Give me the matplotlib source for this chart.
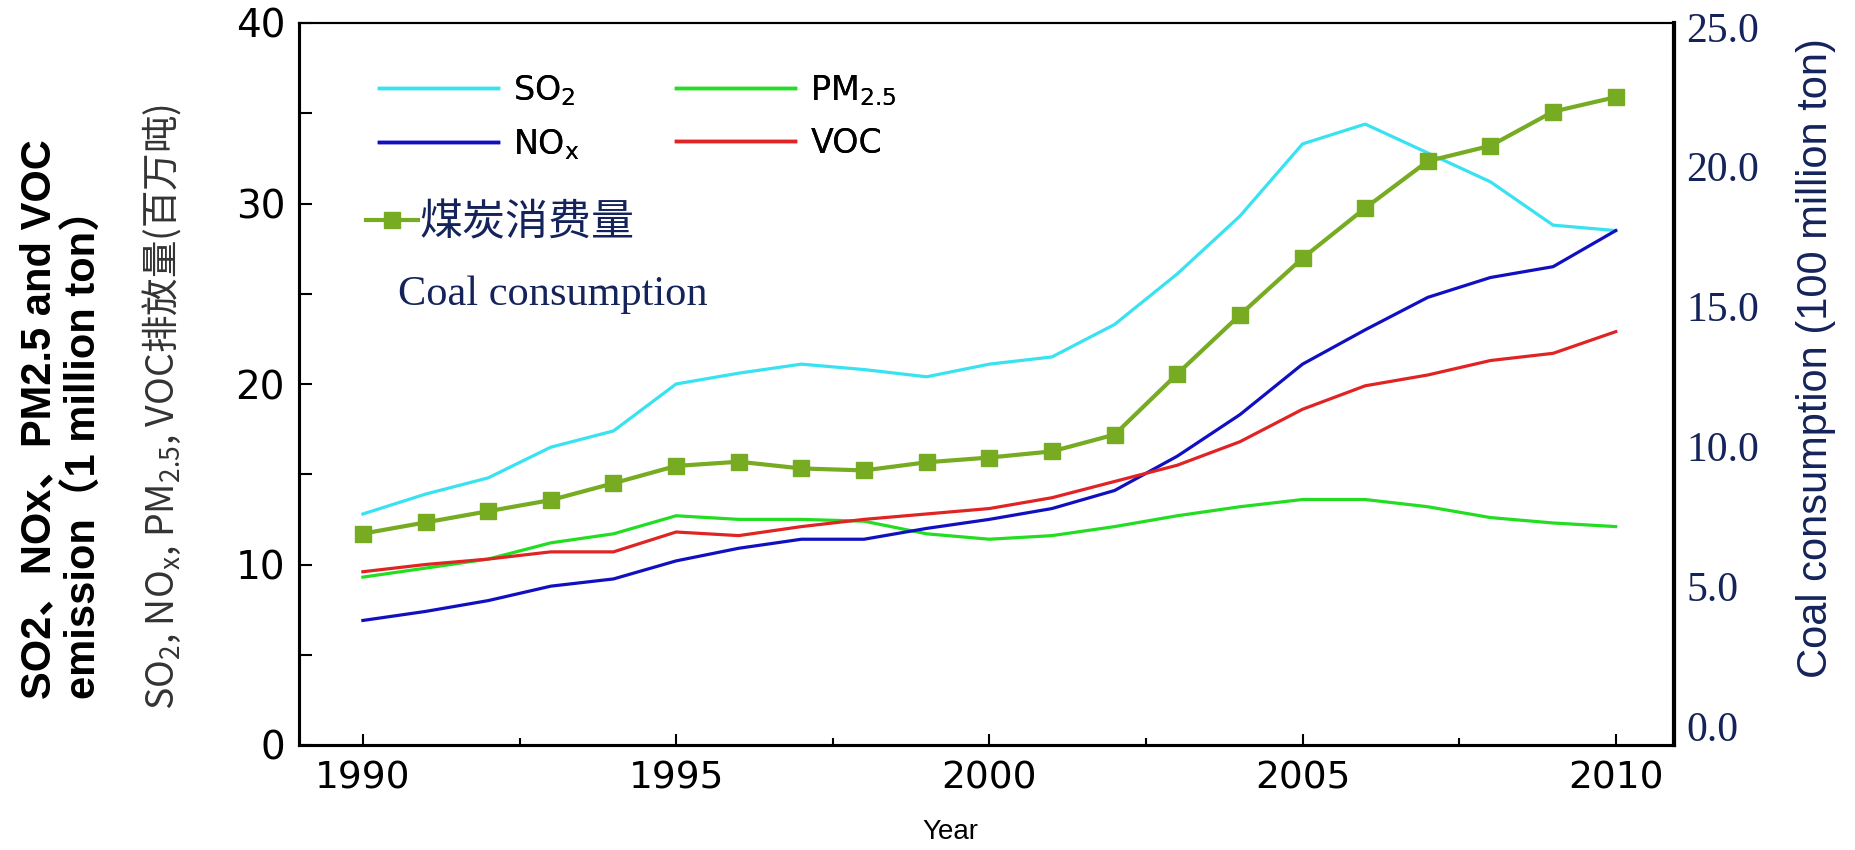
import matplotlib
matplotlib.use("Agg")
import matplotlib.pyplot as plt
from matplotlib.lines import Line2D
from matplotlib.ticker import MultipleLocator

plt.rcParams["mathtext.default"] = "regular"

# values
years = list(range(1990, 2011))
so2 = [12.8, 13.9, 14.8, 16.5, 17.4, 20.0, 20.6, 21.1, 20.8, 20.4, 21.1,
       21.5, 23.3, 26.1, 29.3, 33.3, 34.4, 32.8, 31.2, 28.8, 28.5]
nox = [6.9, 7.4, 8.0, 8.8, 9.2, 10.2, 10.9, 11.4, 11.4, 12.0, 12.5,
       13.1, 14.1, 16.0, 18.3, 21.1, 23.0, 24.8, 25.9, 26.5, 28.5]
pm25 = [9.3, 9.8, 10.3, 11.2, 11.7, 12.7, 12.5, 12.5, 12.4, 11.7, 11.4,
        11.6, 12.1, 12.7, 13.2, 13.6, 13.6, 13.2, 12.6, 12.3, 12.1]
voc = [9.6, 10.0, 10.3, 10.7, 10.7, 11.8, 11.6, 12.1, 12.5, 12.8, 13.1,
       13.7, 14.6, 15.5, 16.8, 18.6, 19.9, 20.5, 21.3, 21.7, 22.9]
coal = [6.88, 7.28, 7.68, 8.08, 8.68, 9.30, 9.45, 9.21, 9.14, 9.43, 9.60,
        9.82, 10.42, 12.59, 14.70, 16.73, 18.52, 20.20, 20.75, 21.97, 22.49]

navy = "#14235a"
c_so2 = "#38e2f0"
c_nox = "#1010c0"
c_pm = "#22dd22"
c_voc = "#e02424"
c_coal = "#76ab22"

W, H = 1855, 850
fig = plt.figure(figsize=(18.55, 8.5), dpi=100)
ax = fig.add_axes([299 / W, (H - 745) / H, (1674 - 299) / W, (745 - 23) / H])
ax2 = ax.twinx()

ax.plot(years, so2, color=c_so2, lw=2.3)
ax.plot(years, pm25, color=c_pm, lw=2.3)
ax.plot(years, nox, color=c_nox, lw=2.3)
ax.plot(years, voc, color=c_voc, lw=2.3)
ax2.plot(years, coal, color=c_coal, lw=3, marker="s", ms=12)

ax.set_xlim(1988.98, 2010.93)
ax.set_ylim(0, 40)
ax2.set_ylim(-0.68, 25.14)

ax.xaxis.set_major_locator(MultipleLocator(5))
ax.xaxis.set_minor_locator(MultipleLocator(2.5))
ax.yaxis.set_major_locator(MultipleLocator(10))
ax.yaxis.set_minor_locator(MultipleLocator(5))
ax.tick_params(which="both", direction="in", top=False, right=False)
ax.tick_params(axis="x", which="major", length=8, width=1.5, pad=11, labelsize=27)
ax.tick_params(axis="x", which="minor", length=5, width=1.5)
ax.tick_params(axis="y", which="both", length=9, width=1.5, pad=10, labelsize=28)
for lab in ax.get_xticklabels() + ax.get_yticklabels():
    lab.set_family("DejaVu Sans")

ax2.yaxis.set_major_locator(MultipleLocator(5))
ax2.yaxis.set_major_formatter(matplotlib.ticker.FormatStrFormatter("%.1f"))
ax2.tick_params(axis="y", length=0, pad=9, labelsize=30, labelcolor=navy)
for lab in ax2.get_yticklabels():
    lab.set_family("Liberation Serif")

for a in (ax, ax2):
    for s in a.spines.values():
        s.set_linewidth(2.2)
    a.spines["top"].set_linewidth(1.5)
ax2.spines["right"].set_linewidth(3)

# legend for the four pollutants
handles = [Line2D([], [], color=c_so2, lw=2.5), Line2D([], [], color=c_nox, lw=2.5),
           Line2D([], [], color=c_pm, lw=2.5), Line2D([], [], color=c_voc, lw=2.5)]
labels = ["SO$_2$", "NO$_x$", "PM$_{2.5}$", "VOC"]
leg = ax.legend(handles, labels, ncol=2, loc="center left",
                bbox_to_anchor=(379 / W, 1 - 117.5 / H), bbox_transform=fig.transFigure,
                frameon=False, borderpad=0, borderaxespad=0, handlelength=3.57,
                handletextpad=0.45, columnspacing=2.9, labelspacing=0.58,
                prop={"family": "DejaVu Sans", "size": 24})
ax.add_artist(leg)

coal_h = Line2D([], [], color=c_coal, lw=3, marker="s", ms=12)
ax2.legend([coal_h], ["煤炭消费量"], loc="center left",
           bbox_to_anchor=(366 / W, 1 - 223 / H), bbox_transform=fig.transFigure,
           frameon=False, borderpad=0, borderaxespad=0, handlelength=1.2,
           handletextpad=0.05, labelcolor=navy,
           prop={"family": "Noto Sans CJK SC", "size": 31})

fig.text(398 / W, 1 - 295 / H, "Coal consumption", ha="left", va="center",
         color=navy, family="Liberation Serif", fontsize=30.5)

# axis titles
fig.text(62 / W, 1 - 699 / H,
         "SO2、NOx、PM2.5 and VOC\nemission（1 million ton）",
         rotation=90, ha="center", va="bottom", multialignment="left",
         family=["Liberation Sans", "Noto Sans CJK SC"], weight="bold",
         fontsize=30, linespacing=1.2)
fig.text(162 / W, 1 - 710 / H,
         "SO$_2$, NO$_x$, PM$_{2.5}$, VOC排放量(百万吨)",
         rotation=90, ha="center", va="bottom", color="#333333",
         family="Noto Sans CJK SC", fontsize=27)
fig.text(1816 / W, 1 - 358 / H, "Coal consumption (100 million ton)",
         rotation=90, ha="center", va="center", color=navy,
         family="Liberation Sans", fontsize=30)
fig.text(950 / W, 1 - 832 / H, "Year", ha="center", va="center",
         family="Liberation Sans", fontsize=20)

fig.savefig("out.png", dpi=100)
